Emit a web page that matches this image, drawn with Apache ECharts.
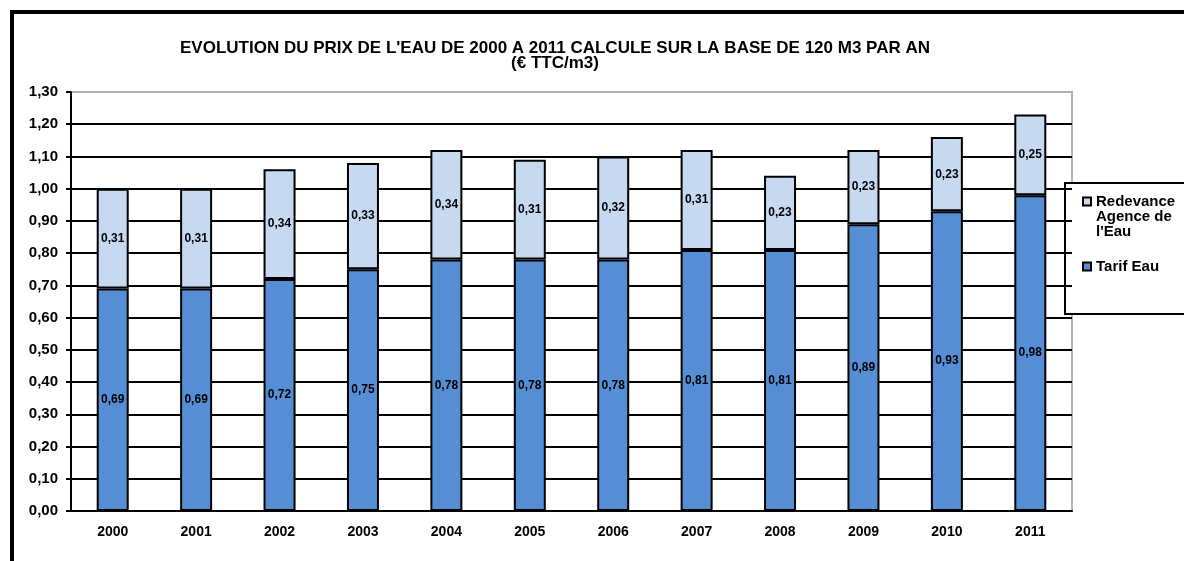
<!DOCTYPE html>
<html>
<head>
<meta charset="utf-8">
<script src="https://cdn.jsdelivr.net/npm/echarts@6/dist/echarts.min.js"></script>
<style>
  html, body { margin: 0; padding: 0; background: #fff; }
  #chart { width: 1184px; height: 561px; }
</style>
</head>
<body>
<div id="chart"></div>
<script>
  'use strict'

  var years = ['2000', '2001', '2002', '2003', '2004', '2005', '2006', '2007', '2008', '2009', '2010', '2011'];
  var tarifEau = [0.69, 0.69, 0.72, 0.75, 0.78, 0.78, 0.78, 0.81, 0.81, 0.89, 0.93, 0.98];
  var redevance = [0.31, 0.31, 0.34, 0.33, 0.34, 0.31, 0.32, 0.31, 0.23, 0.23, 0.23, 0.25];
  var nameRedevance = "Redevance\nAgence de\nl'Eau";
  var nameTarif = 'Tarif Eau';

  var FONT = '"Liberation Sans", Arial, sans-serif';

  function fmt(v) {
    return v.toFixed(2).replace('.', ',');
  }

  // black grid lines, grey one on top (plot border)
  var gridColors = [];
  for (var i = 0; i < 13; i++) gridColors.push('#000');
  gridColors.push('#b0b0b0');

  var chart = echarts.init(document.getElementById('chart'));

  var labelStyle = {
    show: true,
    position: 'inside',
    color: '#000',
    fontFamily: FONT,
    fontWeight: 'bold',
    fontSize: 12,
    formatter: function(p) { return fmt(p.value); }
  };

  chart.setOption({
    animation: false,
    backgroundColor: '#fff',
    title: {
      text: "EVOLUTION DU PRIX DE L'EAU DE 2000 A 2011 CALCULE SUR LA BASE DE 120 M3 PAR AN\n(€ TTC/m3)",
      left: 550,
      top: 36,
      textAlign: 'center',
      textStyle: {
        fontFamily: FONT,
        fontWeight: 700,
        fontSize: 17,
        lineHeight: 15,
        color: '#000'
      }
    },
    grid: {
      left: 71,
      right: 112,
      top: 92,
      bottom: 50,
      show: true,
      borderColor: '#b0b0b0',
      borderWidth: 2
    },
    legend: {
      orient: 'vertical',
      left: 1077,
      top: 159,
      itemWidth: 8,
      itemHeight: 8,
      itemGap: 20,
      icon: 'rect',
      data: [nameRedevance, nameTarif],
      // keep the icon level with the first line of a wrapped name
      formatter: function(name) {
        var n = name.split('\n').length;
        var pad = '';
        for (var k = 1; k < n; k++) pad += ' \n';
        return pad + name;
      },
      textStyle: {
        fontFamily: FONT,
        fontWeight: 'bold',
        fontSize: 15,
        lineHeight: 15,
        color: '#000'
      }
    },
    graphic: [
      {
        type: 'rect',
        shape: { x: 1065, y: 183, width: 130, height: 131 },
        style: { fill: '#fff', stroke: '#000', lineWidth: 2 },
        z: 0
      },
      {
        type: 'rect',
        shape: { x: 12, y: 12, width: 1250, height: 700 },
        style: { fill: 'none', stroke: '#000', lineWidth: 4 },
        z: 100
      }
    ],
    xAxis: {
      type: 'category',
      data: years,
      axisLine: { lineStyle: { color: '#000', width: 2 } },
      axisTick: { length: 5, lineStyle: { color: '#000', width: 2 } },
      axisLabel: {
        margin: 14,
        color: '#000',
        fontFamily: FONT,
        fontWeight: 'bold',
        fontSize: 14
      }
    },
    yAxis: {
      type: 'value',
      min: 0,
      max: 1.3,
      interval: 0.1,
      axisLine: { show: true, lineStyle: { color: '#000', width: 2 } },
      axisTick: { show: true, length: 5, lineStyle: { color: '#000', width: 2 } },
      axisLabel: {
        margin: 13,
        color: '#000',
        fontFamily: FONT,
        fontWeight: 'bold',
        fontSize: 15,
        formatter: function(v) { return fmt(v); }
      },
      splitLine: { show: true, lineStyle: { color: gridColors, width: 2 } }
    },
    series: [
      {
        name: nameTarif,
        type: 'bar',
        stack: 'prix',
        barWidth: 32,
        data: tarifEau,
        itemStyle: { color: '#558ed5', borderColor: '#000', borderWidth: 2 },
        label: labelStyle
      },
      {
        name: nameRedevance,
        type: 'bar',
        stack: 'prix',
        barWidth: 32,
        data: redevance,
        itemStyle: { color: '#c6d9f1', borderColor: '#000', borderWidth: 2 },
        label: labelStyle
      }
    ]
  });
</script>
</body>
</html>
